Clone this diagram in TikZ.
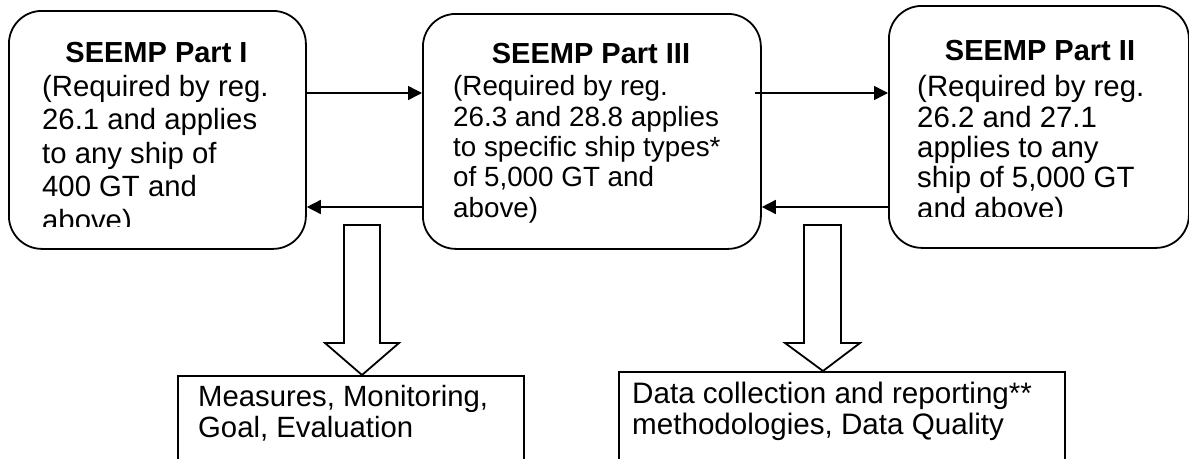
\documentclass[tikz,border=0pt]{standalone}
\usepackage{fontspec}
\setmainfont{Liberation Sans}
\usetikzlibrary{arrows.meta}
\begin{document}
\begin{tikzpicture}[x=1pt,y=-1pt,
  partbox/.style={draw, line width=1.8pt, rounded corners=33pt, inner sep=0pt, anchor=north west},
  outbox/.style={draw, line width=1.8pt, inner sep=0pt, anchor=north west},
  title/.style={anchor=base, inner sep=0pt, font=\bfseries\fontsize{29}{30}\selectfont},
  % multi-line texts are placed by the baseline of their last line
  body/.style={anchor=base west, align=left, inner sep=0pt, font=\fontsize{29.3}{30.3}\selectfont},
  link/.style={line width=1.5pt, -{Triangle[length=14pt,width=14pt]}},
  blockarrow/.style={draw, fill=white, line width=1.8pt, line join=miter}
]
\clip (0,0) rectangle (1189,458);
\fill[white] (0,0) rectangle (1189,458);

% the three SEEMP parts
\node[partbox, minimum width=297pt, minimum height=238pt] (b1) at (8,10) {};
\node[partbox, minimum width=338pt, minimum height=235pt] (b2) at (422,13) {};
\node[partbox, minimum width=300pt, minimum height=242pt] (b3) at (888,5) {};

\node[title] (t1) at (156.5,62) {SEEMP Part I};
\node[title] (t2) at (591,63) {SEEMP Part III};
\node[title] (t3) at (1040,60) {SEEMP Part II};

\begin{scope}
  \clip (8,0) rectangle (305,226);
  \node[body, font=\fontsize{29.3}{33.5}\selectfont] (p1) at (42,230)
    {(Required by reg.\\26.1 and applies\\to any ship of\\400 GT and\\above)};
\end{scope}
\node[body, font=\fontsize{27.8}{30.3}\selectfont] (p2) at (453,217)
  {(Required by reg.\\26.3 and 28.8 applies\\to specific ship types*\\of 5,000 GT and\\above)};
\begin{scope}
  \clip (888,0) rectangle (1189,216);
  \node[body, font=\fontsize{29.4}{30.3}\selectfont] (p3) at (917,218)
    {(Required by reg.\\26.2 and 27.1\\applies to any\\ship of 5,000 GT\\and above)};
\end{scope}

% links between the parts
\coordinate (yTop) at (0,93);
\coordinate (yBot) at (0,207);
\draw[link] (b1.east |- yTop) -- (b2.west |- yTop);
\draw[link] (b2.west |- yBot) -- (b1.east |- yBot);
\draw[link] ([xshift=-7pt]b2.east |- yTop) -- (b3.west |- yTop);
\draw[link] (b3.west |- yBot) -- (b2.east |- yBot);

% outcome boxes
\node[outbox, minimum width=346pt, minimum height=120pt] (o1) at (177,375) {};
\node[outbox, minimum width=446pt, minimum height=120pt] (o2) at (618,371) {};
\node[body] (q1) at (198,437) {Measures, Monitoring,\\Goal, Evaluation};
\node[body, font=\fontsize{29.6}{30.3}\selectfont] (q2) at (632,434)
  {Data collection and reporting**\\methodologies, Data Quality};

% hollow block arrows down to the outcomes
\draw[blockarrow] (344,225) -- (380,225) -- (380,343) -- (399,343)
  -- (o1.north -| 362,0) -- (325,343) -- (344,343) -- cycle;
\draw[blockarrow] (804,225) -- (841,225) -- (841,343) -- (860,343)
  -- (o2.north -| 823,0) -- (785,343) -- (804,343) -- cycle;
\end{tikzpicture}
\end{document}
